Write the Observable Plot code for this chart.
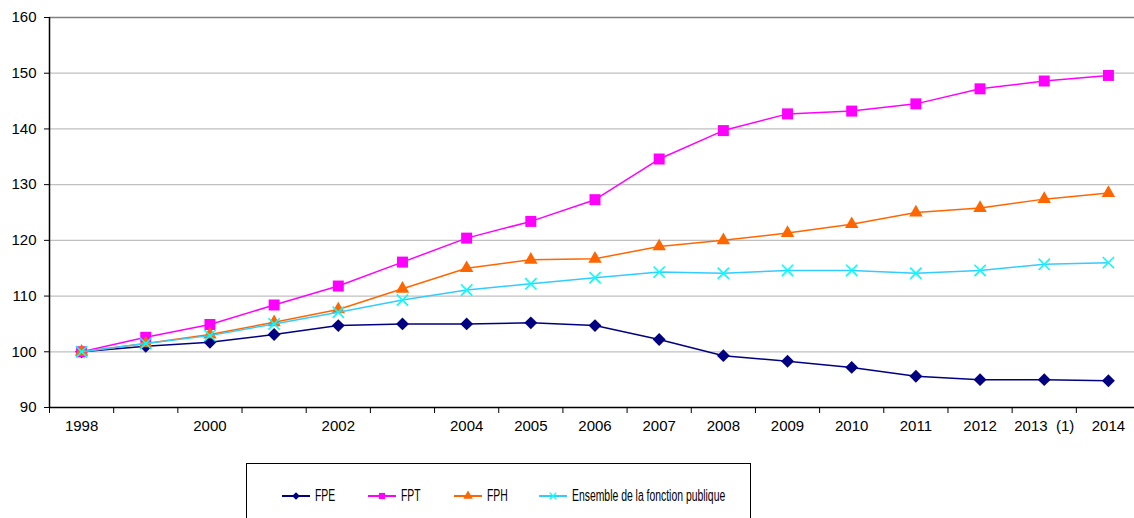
<!DOCTYPE html>
<html>
<head>
<meta charset="utf-8">
<script src="https://cdn.jsdelivr.net/npm/d3@7"></script>
<script src="https://cdn.jsdelivr.net/npm/@observablehq/plot@0.6"></script>
<style>
  html, body { margin: 0; padding: 0; background: #fff; overflow: hidden; }
  body { width: 1134px; height: 518px; font-family: "Liberation Sans", Arial, sans-serif; }
  #chart svg { overflow: visible; }
  #legend { position: absolute; left: 246px; top: 463px; width: 505px; height: 70px;
            border: 1px solid #000; box-sizing: border-box; }
  .item { position: absolute; top: 23px; display: flex; align-items: center; white-space: nowrap;
          font-family: "Liberation Sans", Arial, sans-serif;
          font-size: 16px; color: #000; }
  .item svg { margin-right: 3px; }
  .item span { display: inline-block; transform: scaleX(0.65); transform-origin: left center; }
</style>
</head>
<body>
<div id="chart"></div>
<div id="legend"></div>
<script>
const years = [1998,1999,2000,2001,2002,2003,2004,2005,2006,2007,2008,2009,2010,2011,2012,2013,2014];
const yearLabels = ["1998","","2000","","2002","","2004","2005","2006","2007","2008","2009","2010","2011","2012","2013  (1)","2014"];
const seriesNames = ["FPE","FPT","FPH","Ensemble de la fonction publique"];
const fpe = [100,101.0,101.7,103.1,104.7,105.0,105.0,105.2,104.7,102.2,99.3,98.3,97.2,95.6,95.0,95.0,94.8];
const fpt = [100,102.6,104.9,108.4,111.8,116.1,120.4,123.4,127.3,134.6,139.7,142.7,143.2,144.5,147.2,148.6,149.6];
const fph = [100,101.5,103.1,105.3,107.6,111.3,115.0,116.5,116.7,118.9,120.0,121.3,122.9,125.0,125.8,127.4,128.5];
const ens = [100,101.5,102.9,105.0,107.1,109.3,111.1,112.2,113.3,114.3,114.1,114.6,114.6,114.1,114.6,115.7,116.0];
const yTicks = [90,100,110,120,130,140,150,160];

const styles = [
  {line: "#000080", mark: "#000080", symbol: "diamond2", r: 5.8, filled: true},
  {line: "#FF00FF", mark: "#FF00FF", symbol: "square", r: 6.2, filled: true},
  {line: "#FF6600", mark: "#FF6600", symbol: "triangle", r: 5.0, filled: true},
  {line: "#33CCFF", mark: "#00FFFF", symbol: "times", r: 5.2, filled: false}
];
const allSeries = [fpe, fpt, fph, ens];
const data = [];
allSeries.forEach((vals, si) => vals.forEach((v, i) => data.push({year: years[i], value: v, series: seriesNames[si], si})));

const marks = [
  Plot.ruleY(yTicks.filter(d => d > 90 && d < 160), {y: d => d, stroke: "#c0c0c0", strokeWidth: 1.3}),
  Plot.ruleY([160], {stroke: "#808080", strokeWidth: 1.3}),
  Plot.axisY({ticks: yTicks, tickSize: 5, tickPadding: 8, fontSize: 15, label: null, stroke: "#000", strokeOpacity: 1}),
  Plot.axisX({ticks: years.map(y => y - 0.5).concat([2014.5]), tickSize: 6, tickFormat: () => "", label: null, strokeOpacity: 1}),
  Plot.axisX({ticks: years, tickSize: 0, tickPadding: 13, tickFormat: (d) => yearLabels[years.indexOf(d)], fontSize: 15, label: null}),
  Plot.ruleX([1997.5], {stroke: "#000", strokeWidth: 1.5}),
  Plot.ruleY([90], {stroke: "#000", strokeWidth: 1.5})
];
allSeries.forEach((vals, si) => {
  const st = styles[si];
  const d = data.filter(p => p.si === si);
  marks.push(Plot.line(d, {x: "year", y: "value", stroke: st.line, strokeWidth: 1.5}));
  if (st.filled) {
    marks.push(Plot.dot(d, {x: "year", y: "value", symbol: () => st.symbol, r: st.r, fill: st.mark, stroke: "none"}));
  } else {
    marks.push(Plot.dot(d, {x: "year", y: "value", symbol: () => st.symbol, r: st.r, stroke: st.mark, strokeWidth: 1.6, fill: "none"}));
  }
});

const chart = Plot.plot({
  width: 1134,
  height: 440,
  marginLeft: 49,
  marginRight: 0,
  marginTop: 17,
  marginBottom: 33,
  style: {fontFamily: "'Liberation Sans', Arial, sans-serif", fontSize: "15px", color: "#000", background: "#fff"},
  x: {type: "linear", domain: [1997.5, 2014.5], range: [49, 1140]},
  y: {domain: [90, 160], range: [407, 17]},
  symbol: {type: "identity"},
  marks
});
document.getElementById("chart").appendChild(chart);

// Legend
const legend = document.getElementById("legend");
const legendX = [35, 121, 207, 292];
seriesNames.forEach((name, i) => {
  const st = styles[i];
  const item = document.createElement("div");
  item.className = "item";
  item.style.left = legendX[i] + "px";
  const sw = d3.create("svg").attr("width", 30).attr("height", 14);
  sw.append("line").attr("x1", 0).attr("x2", 28).attr("y1", 7).attr("y2", 7).attr("stroke", st.line).attr("stroke-width", 2);
  const symMap = {diamond2: d3.symbolDiamond2, square: d3.symbolSquare, triangle: d3.symbolTriangle, times: d3.symbolTimes};
  const p = sw.append("path").attr("transform", "translate(14,7)")
    .attr("d", d3.symbol(symMap[st.symbol], st.filled ? 38 : 30)());
  if (st.filled) p.attr("fill", st.mark); else p.attr("fill", "none").attr("stroke", st.mark).attr("stroke-width", 1.2);
  item.appendChild(sw.node());
  const t = document.createElement("span");
  t.textContent = name;
  item.appendChild(t);
  legend.appendChild(item);
});
</script>
</body>
</html>
